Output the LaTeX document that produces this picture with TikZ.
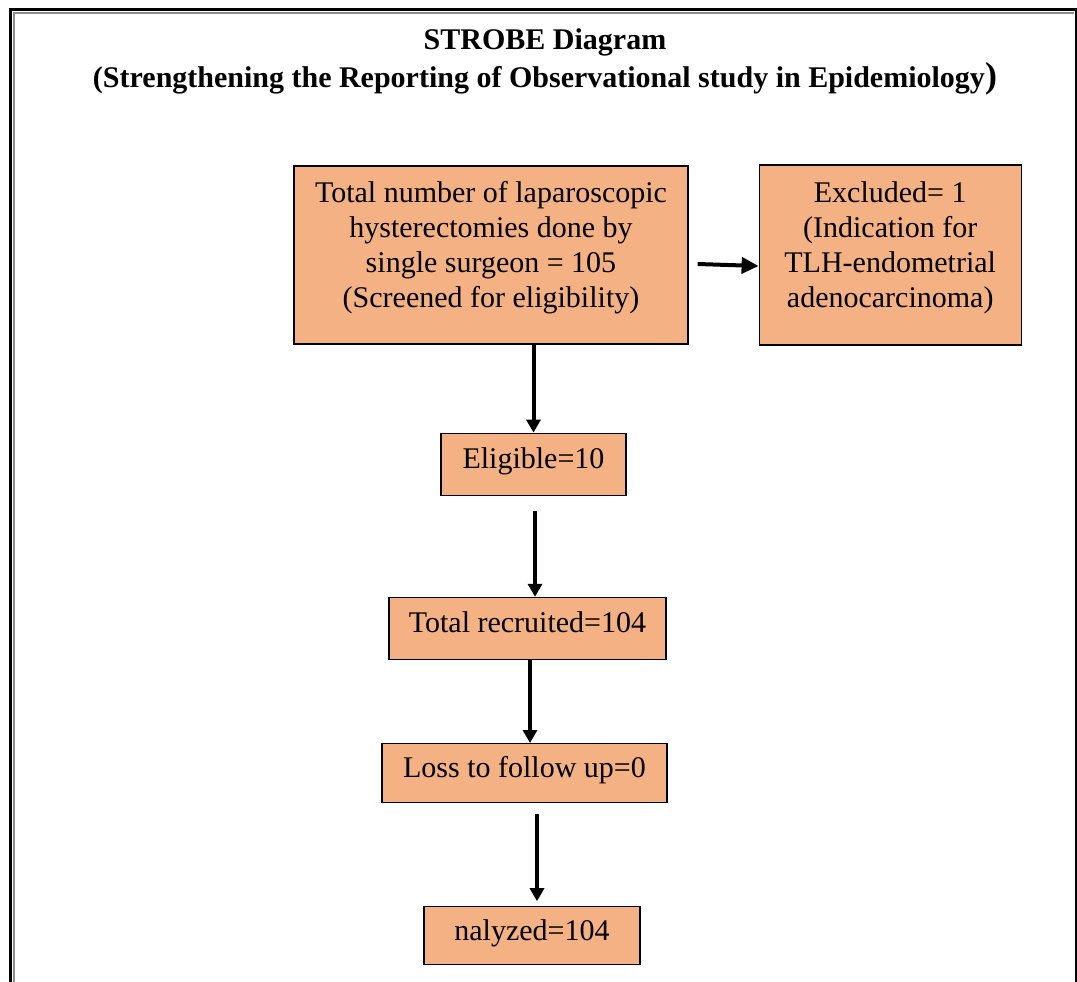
\documentclass[tikz,border=0pt]{standalone}
\usepackage{fontspec}
\setmainfont{Liberation Serif}
\usepackage{tikz}
\usetikzlibrary{arrows.meta, positioning}
\definecolor{boxorange}{HTML}{F4B183}
\definecolor{framegray}{HTML}{8C8C8C}

\begin{document}
\begin{tikzpicture}[
  x=1pt, y=1pt,
  node distance=80pt and 70pt,
  box/.style={rectangle, draw=black, fill=boxorange, line width=1.2pt,
              inner sep=0pt, align=center, text depth=12pt,
              font=\fontsize{30}{35}\selectfont},
  arr/.style={-{Triangle[length=13pt,width=14pt]}, black, line width=4pt},
  title/.style={font=\bfseries\fontsize{30}{38}\selectfont, align=center},
]
  \useasboundingbox (0,0) rectangle (1077,-982);

  % page frame
  \draw[line width=3pt] (10.5,-982) -- (10.5,-9.2) -- (1076,-9.2) -- (1076,-982);
  \draw[framegray, line width=1.5pt] (14,-982) -- (14,-12.8) -- (1074,-12.8);

  \node[title] (head) at (545,-62)
    {STROBE Diagram\\(Strengthening the Reporting of Observational study in Epidemiology{\fontsize{36}{38}\selectfont)}};

  \node[box, text depth=21pt, minimum width=394pt, minimum height=178pt] (total) at (491,-255)
    {Total number of laparoscopic\\hysterectomies done by\\single surgeon = 105\\(Screened for eligibility)};
  \node[box, text depth=21pt, minimum width=262pt, minimum height=180pt, right=70pt of total] (excl)
    {Excluded= 1\\(Indication for\\TLH-endometrial\\adenocarcinoma)};

  \node[box, minimum width=185pt, minimum height=62pt, below=88pt of total, xshift=42.5pt] (elig)
    {Eligible=10};
  \node[box, minimum width=277pt, minimum height=62pt, below=101pt of elig, xshift=-6pt] (recr)
    {Total recruited=104};
  \node[box, minimum width=285pt, minimum height=59pt, below=83pt of recr, xshift=-3pt] (loss)
    {Loss to follow up=0};
  \node[box, minimum width=216pt, minimum height=58pt, below=103pt of loss, xshift=7.5pt] (anal)
    {nalyzed=104};

  \draw[arr, -{Triangle[length=17pt,width=16pt]}] ([xshift=9pt,yshift=-9pt]total.east) -- ([yshift=-11pt]excl.west);
  \draw[arr] (total.south -| elig.north) -- (elig.north);
  \draw[arr] ([xshift=1.5pt,yshift=-15pt]elig.south) -- ([xshift=1.5pt]elig.south |- recr.north);
  \draw[arr] ([xshift=2.5pt]recr.south) -- ([xshift=2.5pt]recr.south |- loss.north);
  \draw[arr, shorten >=5pt] ([xshift=12.5pt,yshift=-11pt]loss.south) -- ([xshift=12.5pt]loss.south |- anal.north);
\end{tikzpicture}
\end{document}
